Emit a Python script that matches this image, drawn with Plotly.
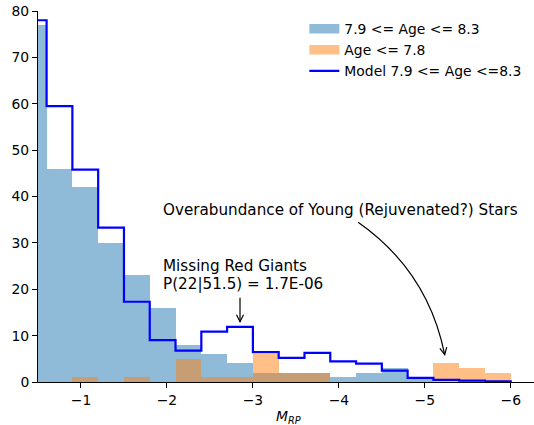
import plotly.graph_objects as go

# Histogram bin edges (absolute magnitude M_RP), width 0.3
bin_edges = [-0.3, -0.6, -0.9, -1.2, -1.5, -1.8, -2.1, -2.4, -2.7, -3.0,
             -3.3, -3.6, -3.9, -4.2, -4.5, -4.8, -5.1, -5.4, -5.7, -6.0]

# Counts per bin
counts_mid_age = [77, 46, 42, 30, 23, 16, 8, 6, 4, 2, 2, 2, 1, 2, 3, 1, 0, 0, 0]   # 7.9 <= Age <= 8.3
counts_young = [0, 0, 1, 0, 1, 0, 5, 1, 1, 6, 2, 2, 0, 0, 0, 0, 4, 3, 2]           # Age <= 7.8
model_mid_age = [78.0, 59.5, 45.8, 33.3, 17.3, 9.05, 6.75, 10.85, 11.9, 6.45,
                 5.2, 6.3, 4.45, 3.95, 2.45, 0.9, 0.45, 0.3, 0.12]                 # Model 7.9 <= Age <= 8.3

x_ticks = [-1, -2, -3, -4, -5, -6]
y_ticks = [0, 10, 20, 30, 40, 50, 60, 70, 80]

FONT = "DejaVu Sans"
FS = 13.9
FS_ANN = 15.2
BLUE = "rgba(31,119,180,0.5)"
ORANGE = "rgba(255,127,14,0.5)"

X_RANGE = [-0.5, -6.27]
Y_RANGE = [0, 80]
W, H = 534, 425
ML, MR, MT, MB = 37.5, 0, 10.7, 42.6
PX_X = (W - ML - MR) / abs(X_RANGE[1] - X_RANGE[0])   # pixels per x unit
PX_Y = (H - MT - MB) / (Y_RANGE[1] - Y_RANGE[0])      # pixels per y unit

centers = [(bin_edges[i] + bin_edges[i + 1]) / 2 for i in range(len(bin_edges) - 1)]
widths = [abs(bin_edges[i + 1] - bin_edges[i]) for i in range(len(bin_edges) - 1)]

# step outline of model histogram
step_x = [bin_edges[0]]
step_y = [0]
for i, v in enumerate(model_mid_age):
    step_x += [bin_edges[i], bin_edges[i + 1]]
    step_y += [v, v]
step_x.append(bin_edges[-1])
step_y.append(0)

fig = go.Figure()

# legend-only entries
fig.add_trace(go.Scatter(x=[None], y=[None], mode="lines", name="7.9 <= Age <= 8.3",
                         line=dict(color=BLUE, width=9.5)))
fig.add_trace(go.Scatter(x=[None], y=[None], mode="lines", name="Age <= 7.8",
                         line=dict(color=ORANGE, width=9.5)))

fig.add_trace(go.Bar(x=centers, y=counts_mid_age, width=widths, marker=dict(color=BLUE, line=dict(width=0)),
                     showlegend=False, name="7.9 <= Age <= 8.3"))
fig.add_trace(go.Bar(x=centers, y=counts_young, width=widths, marker=dict(color=ORANGE, line=dict(width=0)),
                     showlegend=False, name="Age <= 7.8"))
fig.add_trace(go.Scatter(x=step_x, y=step_y, mode="lines", name="Model 7.9 <= Age <=8.3",
                         line=dict(color="#0000ff", width=2.2)))

fig.update_layout(
    width=W, height=H,
    margin=dict(l=ML, r=MR, t=MT, b=MB),
    barmode="overlay", bargap=0,
    plot_bgcolor="white", paper_bgcolor="white",
    font=dict(family=FONT, size=FS, color="black"),
    legend=dict(x=0.537, xanchor="left", y=0.994, yanchor="top",
                bgcolor="rgba(0,0,0,0)", font=dict(family=FONT, size=FS, color="black"),
                traceorder="normal"),
    xaxis=dict(range=X_RANGE, tickvals=x_ticks, ticks="outside", ticklen=5, tickwidth=1,
               tickcolor="black", showline=True, linecolor="black", linewidth=1, showgrid=False,
               zeroline=False, tickfont=dict(family=FONT, size=FS), automargin=False),
    yaxis=dict(range=Y_RANGE, tickvals=y_ticks, ticks="outside", ticklen=5, tickwidth=1,
               tickcolor="black", showline=True, linecolor="black", linewidth=1, showgrid=False,
               zeroline=False, tickfont=dict(family=FONT, size=FS), automargin=False),
)

# x-axis title (placed as annotation for precise position)
fig.add_annotation(x=(288 - ML) / (W - ML - MR), y=-(417 - (H - MB)) / (H - MT - MB),
                   xref="paper", yref="paper", xanchor="center", yanchor="middle",
                   text="<i>M</i><sub><i>RP</i></sub>", showarrow=False,
                   font=dict(family=FONT, size=FS, color="black"))


def chevron(tip, dpx, dpy, length=7.0, half=3.5):
    """Open arrow head ('->') at tip (data coords); (dpx, dpy) = direction in pixels (y down)."""
    n = (dpx ** 2 + dpy ** 2) ** 0.5
    ux, uy = dpx / n, dpy / n
    px, py = -uy, ux
    pts = []
    for s in (1, -1):
        ox = -length * ux + s * half * px
        oy = -length * uy + s * half * py
        pts.append((tip[0] - ox / PX_X, tip[1] - oy / PX_Y))
    return f"M {pts[0][0]},{pts[0][1]} L {tip[0]},{tip[1]} L {pts[1][0]},{pts[1][1]}"


# curved arrow for overabundance annotation
tail = (-4.224, 34.46)
ctrl = (-5.036, 23.91)
head = (-5.231, 5.90)
fig.add_shape(type="path", xref="x", yref="y",
              path=f"M {tail[0]},{tail[1]} Q {ctrl[0]},{ctrl[1]} {head[0]},{head[1]}",
              line=dict(color="black", width=1.2))
fig.add_shape(type="path", xref="x", yref="y", path=chevron(head, 16.8, 83.7),
              line=dict(color="black", width=1.2))

# straight arrow for missing red giants
s_tail = (-2.85, 18.17)
s_head = (-2.85, 13.0)
fig.add_shape(type="line", xref="x", yref="y", x0=s_tail[0], y0=s_tail[1], x1=s_head[0], y1=s_head[1],
              line=dict(color="black", width=1.2))
fig.add_shape(type="path", xref="x", yref="y", path=chevron(s_head, 0, 1),
              line=dict(color="black", width=1.2))

fig.add_annotation(x=-1.95, y=37.1, xref="x", yref="y", xanchor="left", yanchor="middle", xshift=-2,
                   text="Overabundance of Young (Rejuvenated?) Stars", showarrow=False,
                   font=dict(family=FONT, size=FS_ANN, color="black"))
fig.add_annotation(x=-1.95, y=24.95, xref="x", yref="y", xanchor="left", yanchor="middle", xshift=-2,
                   text="Missing Red Giants", showarrow=False,
                   font=dict(family=FONT, size=FS_ANN, color="black"))
fig.add_annotation(x=-1.95, y=21.07, xref="x", yref="y", xanchor="left", yanchor="middle", xshift=-2,
                   text="P(22|51.5) = 1.7E-06", showarrow=False,
                   font=dict(family=FONT, size=FS_ANN, color="black"))

fig.write_html("out.html")
